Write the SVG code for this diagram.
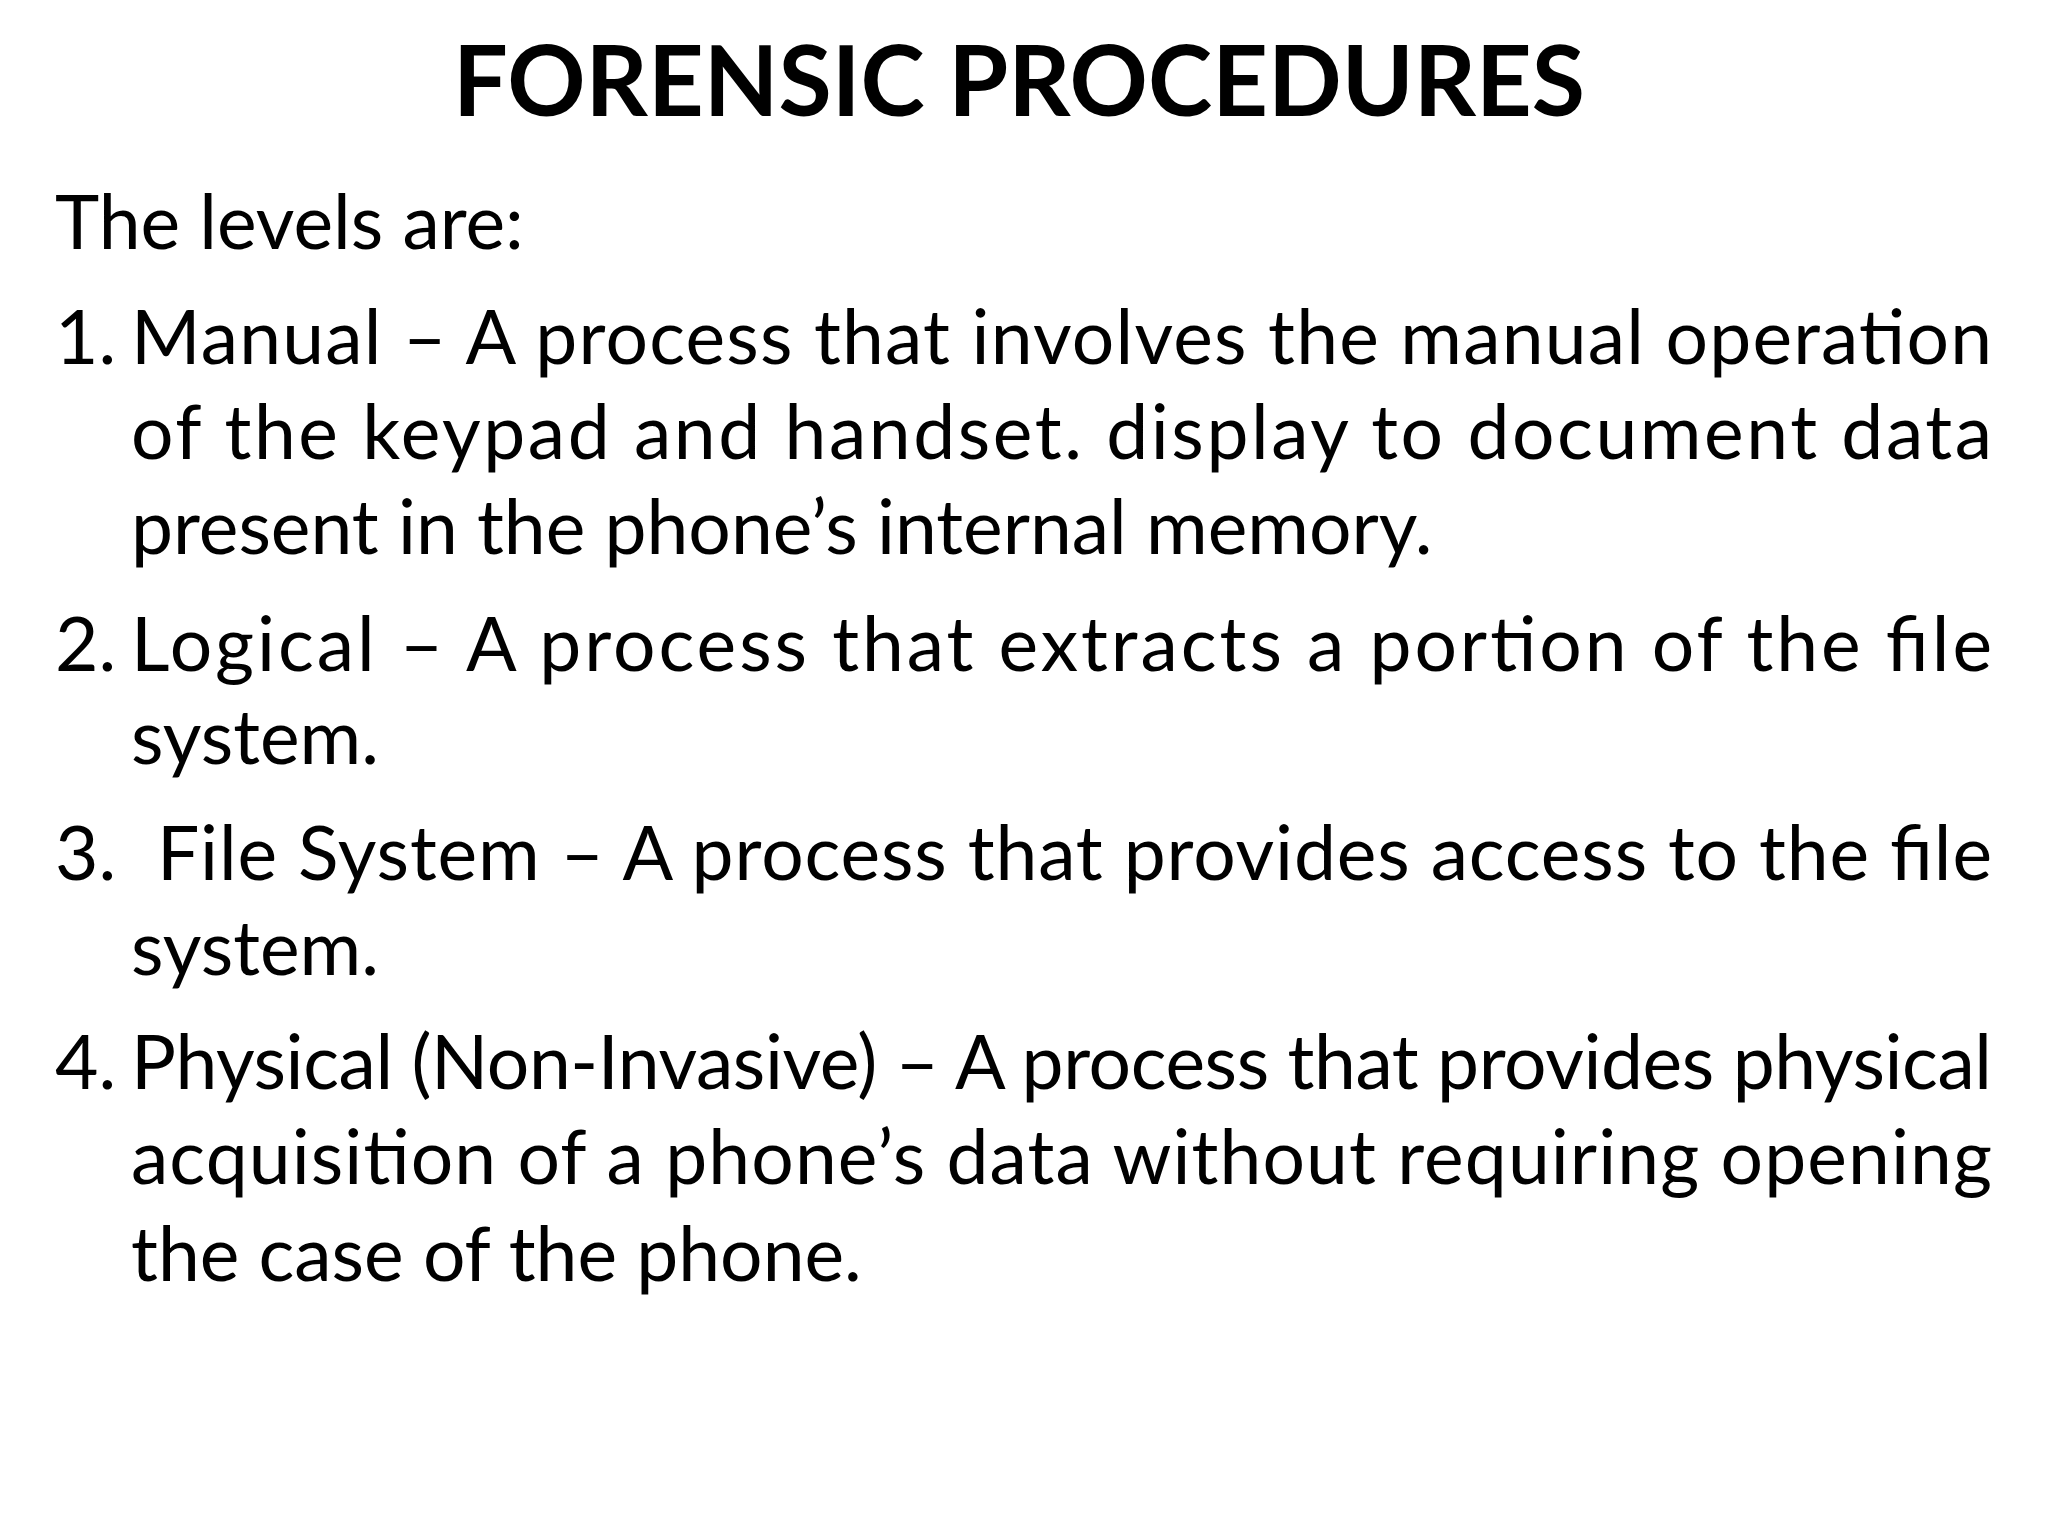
<svg xmlns="http://www.w3.org/2000/svg" width="2048" height="1536" viewBox="0 0 2048 1536">
<style>
.t{font-family:Lato,"Liberation Sans",sans-serif;font-size:75px;fill:#000}
.h{font-family:Lato,"Liberation Sans",sans-serif;font-size:97px;font-weight:bold;fill:#000}
</style>
<rect width="2048" height="1536" fill="#fff"/>
<g id="title"><text class="h" x="1019" y="116" text-anchor="middle">FORENSIC PROCEDURES</text></g>
<g id="body">
<text class="t" x="55" y="249">The levels are:</text>
<text class="t" x="55" y="364">1.</text>
<text class="t" x="131" y="364" textLength="1861" lengthAdjust="spacing">Manual – A process that involves the manual operation</text>
<text class="t" x="131" y="459" textLength="1861" lengthAdjust="spacing">of the keypad and handset. display to document data</text>
<text class="t" x="131" y="554">present in the phone’s internal memory.</text>
<text class="t" x="55" y="671">2.</text>
<text class="t" x="131" y="671" textLength="1861" lengthAdjust="spacing">Logical – A process that extracts a portion of the file</text>
<text class="t" x="131" y="764">system.</text>
<text class="t" x="55" y="880">3.</text>
<text class="t" x="157" y="880" textLength="1835" lengthAdjust="spacing">File System – A process that provides access to the file</text>
<text class="t" x="131" y="975">system.</text>
<text class="t" x="55" y="1089">4.</text>
<text class="t" x="131" y="1089" textLength="1861" lengthAdjust="spacing">Physical (Non-Invasive) – A process that provides physical</text>
<text class="t" x="131" y="1184" textLength="1861" lengthAdjust="spacing">acquisition of a phone’s data without requiring opening</text>
<text class="t" x="131" y="1281">the case of the phone.</text>
</g>
</svg>
